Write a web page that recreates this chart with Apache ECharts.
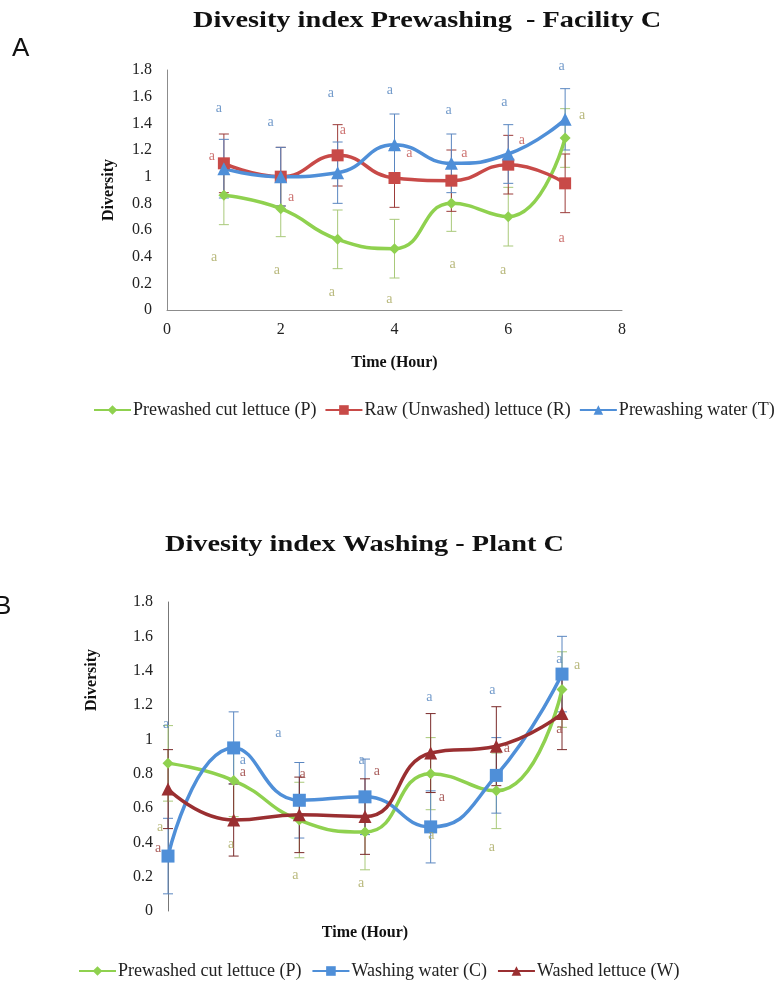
<!DOCTYPE html>
<html>
<head>
<meta charset="utf-8">
<script src="https://cdn.jsdelivr.net/npm/echarts@6/dist/echarts.min.js"></script>
<style>
html,body{margin:0;padding:0;background:#fff;}
#chart{width:776px;height:987px;}
</style>
</head>
<body>
<div id="chart"></div>
<script>
// ---------- DATA ----------
const hours = [1, 2, 3, 4, 5, 6, 7];
const xTicksTop = [0, 2, 4, 6, 8];
const yTicks = [0, 0.2, 0.4, 0.6, 0.8, 1, 1.2, 1.4, 1.6, 1.8];

// Chart A: Prewashing - Facility C
const prewashedP = [0.86, 0.76, 0.53, 0.46, 0.80, 0.70, 1.29];
const prewashedPErr = [0.22, 0.21, 0.22, 0.22, 0.21, 0.22, 0.22];
const rawR = [1.10, 1.00, 1.16, 0.99, 0.97, 1.09, 0.95];
const rawRErr = [0.22, 0.22, 0.23, 0.22, 0.23, 0.22, 0.22];
const prewashWaterT = [1.06, 1.00, 1.03, 1.24, 1.10, 1.17, 1.43];
const prewashWaterTErr = [0.22, 0.22, 0.23, 0.23, 0.22, 0.22, 0.23];

// Chart B: Washing - Plant C
const washingWaterC = [0.32, 0.95, 0.645, 0.665, 0.49, 0.79, 1.38];
const washingWaterCErr = [0.22, 0.21, 0.22, 0.22, 0.21, 0.22, 0.22];
const washedW = [0.71, 0.53, 0.56, 0.55, 0.92, 0.96, 1.15];
const washedWErr = [0.23, 0.21, 0.22, 0.22, 0.23, 0.23, 0.21];

// significance letters ("a") at data positions
const lettersA_T = [[0.91,1.51],[1.82,1.41],[2.88,1.625],[3.92,1.645],[4.95,1.50],[5.93,1.557],[6.94,1.825]];
const lettersA_R = [[0.79,1.155],[2.18,0.842],[3.09,1.35],[4.26,1.175],[5.23,1.175],[6.24,1.275],[6.94,0.537]];
const lettersA_P = [[0.83,0.395],[1.93,0.295],[2.90,0.13],[3.91,0.08],[5.02,0.345],[5.91,0.295],[7.30,1.46]];
const lettersB_C = [[0.97,1.088],[2.14,0.878],[2.68,1.033],[3.95,0.878],[4.98,1.243],[5.94,1.286],[6.96,1.464]];
const lettersB_W = [[0.85,0.363],[2.14,0.81],[3.05,0.795],[4.18,0.816],[5.17,0.66],[6.16,0.946],[6.96,1.057]];
const lettersB_P = [[0.88,0.49],[1.96,0.39],[2.94,0.21],[3.94,0.16],[5.01,0.44],[5.93,0.37],[7.23,1.43]];

const titleA = 'Divesity index Prewashing  - Facility C';
const titleB = 'Divesity index Washing - Plant C';
const nameP = 'Prewashed cut lettuce (P)';
const nameR = 'Raw (Unwashed) lettuce (R)';
const nameT = 'Prewashing water (T)';
const nameC = 'Washing water (C)';
const nameW = 'Washed lettuce (W)';

// ---------- STYLE ----------
const SERIF = '"Liberation Serif", "Times New Roman", serif';
const cGreen = '#8fd14f', cRed = '#c84a48', cBlue = '#4f8fd8', cMaroon = '#9a2f31';
const cGreenErr = '#a9c97a', cLetterGreen = '#a8a85c';

function pairs(v) { return hours.map((h, i) => [h, v[i]]); }
function errData(v, e) { return hours.map((h, i) => [h, v[i] - e[i], v[i] + e[i]]); }

function errSeries(id, v, e, color, gi) {
  return {
    type: 'custom', name: id, xAxisIndex: gi, yAxisIndex: gi, z: 2, silent: true,
    encode: { x: 0, y: [1, 2] },
    data: errData(v, e),
    renderItem: function (params, api) {
      const x = api.value(0);
      const hi = api.coord([x, api.value(2)]);
      const lo = api.coord([x, api.value(1)]);
      const w = 5;
      const st = { stroke: color, lineWidth: 1 };
      return { type: 'group', children: [
        { type: 'line', shape: { x1: hi[0], y1: hi[1], x2: lo[0], y2: lo[1] }, style: st },
        { type: 'line', shape: { x1: hi[0] - w, y1: hi[1], x2: hi[0] + w, y2: hi[1] }, style: st },
        { type: 'line', shape: { x1: lo[0] - w, y1: lo[1], x2: lo[0] + w, y2: lo[1] }, style: st }
      ] };
    }
  };
}

function lineSeries(name, v, color, symbol, size, gi) {
  return {
    type: 'line', name: name, xAxisIndex: gi, yAxisIndex: gi, z: 5,
    data: pairs(v), smooth: 0.5, clip: false,
    symbol: symbol, symbolSize: size, showAllSymbol: true,
    lineStyle: { color: color, width: 3.5 },
    itemStyle: { color: color },
    emphasis: { disabled: true }
  };
}

function letterSeries(id, pts, color, gi) {
  return {
    type: 'scatter', name: id, xAxisIndex: gi, yAxisIndex: gi, z: 6, silent: true,
    data: pts, symbolSize: 0, clip: false,
    label: { show: true, position: 'inside', formatter: 'a', color: color,
             fontFamily: SERIF, fontSize: 14 }
  };
}

const axisLineStyle = { show: true, lineStyle: { color: '#8c8c8c', width: 1 } };
const labelStyle = { fontFamily: SERIF, fontSize: 16, color: '#222' };
const nameStyle = { fontFamily: SERIF, fontSize: 16, fontWeight: 'bold', color: '#111' };
const titleFont = 'bold 24px "Liberation Serif", "Times New Roman", serif';
const legendText = { fontFamily: SERIF, fontSize: 18, color: '#222', padding: [0, 0, 0, -3] };

const option = {
  backgroundColor: '#fff',
  animation: false,
  graphic: [
    { type: 'text', x: 193, y: 21, scaleX: 1.18,
      style: { text: titleA, font: titleFont, fill: '#111', align: 'left', verticalAlign: 'middle' } },
    { type: 'text', x: 165, y: 545, scaleX: 1.18,
      style: { text: titleB, font: titleFont, fill: '#111', align: 'left', verticalAlign: 'middle' } },
    { type: 'text', left: 12, top: 36, style: { text: 'A', font: '26px "Liberation Sans", Arial, sans-serif', fill: '#111' } },
    { type: 'text', left: -6, top: 594, style: { text: 'B', font: '26px "Liberation Sans", Arial, sans-serif', fill: '#111' } },
    { type: 'text', x: 92, y: 680, rotation: Math.PI / 2,
      style: { text: 'Diversity', font: 'bold 16px "Liberation Serif", serif', fill: '#111',
               align: 'center', verticalAlign: 'middle' } }
  ],
  legend: [
    { data: [nameP, nameR, nameT], left: 93, top: 401, width: 700, padding: 0,
      itemWidth: 37, itemHeight: 12, itemGap: 8, textStyle: legendText, selectedMode: false },
    { data: [nameP, nameC, nameW], left: 78, top: 962, width: 700, padding: 0,
      itemWidth: 37, itemHeight: 12, itemGap: 10, textStyle: legendText, selectedMode: false }
  ],
  grid: [
    { left: 167, top: 70, width: 455, height: 240 },
    { left: 168, top: 602, width: 394, height: 309 }
  ],
  xAxis: [
    { gridIndex: 0, type: 'value', min: xTicksTop[0], max: xTicksTop[xTicksTop.length - 1], interval: 2,
      axisLine: axisLineStyle, axisTick: { show: false }, splitLine: { show: false },
      axisLabel: Object.assign({ margin: 12 }, labelStyle),
      name: 'Time (Hour)', nameLocation: 'middle', nameGap: 45, nameTextStyle: nameStyle },
    { gridIndex: 1, type: 'value', min: hours[0], max: hours[hours.length - 1],
      axisLine: { show: false }, axisTick: { show: false }, splitLine: { show: false },
      axisLabel: { show: false },
      name: 'Time (Hour)', nameLocation: 'middle', nameGap: 14, nameTextStyle: nameStyle }
  ],
  yAxis: [
    { gridIndex: 0, type: 'value', min: yTicks[0], max: yTicks[yTicks.length - 1], interval: 0.2,
      axisLine: axisLineStyle, axisTick: { show: false }, splitLine: { show: false },
      axisLabel: Object.assign({ margin: 15 }, labelStyle),
      name: 'Diversity', nameLocation: 'middle', nameGap: 50, nameTextStyle: nameStyle },
    { gridIndex: 1, type: 'value', min: yTicks[0], max: yTicks[yTicks.length - 1], interval: 0.2,
      axisLine: { show: true, lineStyle: { color: '#777', width: 1 } }, axisTick: { show: false }, splitLine: { show: false },
      axisLabel: Object.assign({ margin: 15 }, labelStyle) }
  ],
  series: [
    errSeries('errAP', prewashedP, prewashedPErr, cGreenErr, 0),
    errSeries('errAR', rawR, rawRErr, '#9c3c3a', 0),
    errSeries('errAT', prewashWaterT, prewashWaterTErr, '#5a86c0', 0),
    lineSeries(nameP, prewashedP, cGreen, 'diamond', 11, 0),
    lineSeries(nameR, rawR, cRed, 'rect', 12, 0),
    lineSeries(nameT, prewashWaterT, cBlue, 'triangle', 13, 0),
    letterSeries('letAT', lettersA_T, '#4f81bd', 0),
    letterSeries('letAR', lettersA_R, '#c0504d', 0),
    letterSeries('letAP', lettersA_P, cLetterGreen, 0),

    errSeries('errBP', prewashedP, prewashedPErr, cGreenErr, 1),
    errSeries('errBC', washingWaterC, washingWaterCErr, '#5a86c0', 1),
    errSeries('errBW', washedW, washedWErr, '#7a2a2a', 1),
    lineSeries(nameP, prewashedP, cGreen, 'diamond', 11, 1),
    lineSeries(nameC, washingWaterC, cBlue, 'rect', 13, 1),
    lineSeries(nameW, washedW, cMaroon, 'triangle', 13, 1),
    letterSeries('letBC', lettersB_C, '#4f81bd', 1),
    letterSeries('letBW', lettersB_W, '#953735', 1),
    letterSeries('letBP', lettersB_P, cLetterGreen, 1)
  ]
};

const chart = echarts.init(document.getElementById('chart'), null, { renderer: 'canvas' });
chart.setOption(option);
</script>
</body>
</html>
